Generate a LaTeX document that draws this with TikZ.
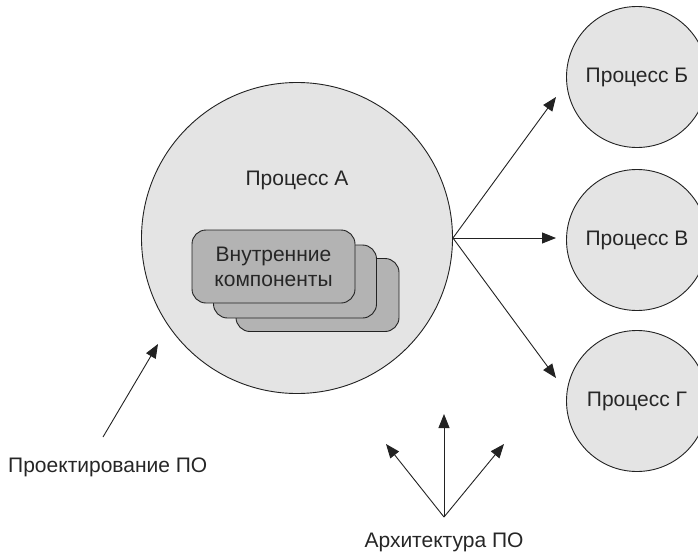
\documentclass[tikz,border=0pt]{standalone}
\usepackage{fontspec}
\setmainfont{Liberation Sans}
\usetikzlibrary{arrows.meta}
\definecolor{procfill}{HTML}{E4E4E4}
\definecolor{compfill}{HTML}{B3B3B3}
\definecolor{edge}{HTML}{222222}
\tikzset{
  proc/.style={circle, draw=edge, line width=0.9pt, fill=procfill, inner sep=0pt},
  comp/.style={rectangle, rounded corners=14pt, draw=edge, line width=0.9pt, fill=compfill,
    minimum width=163pt, minimum height=73pt, inner sep=0pt},
  link/.style={draw=edge, line width=0.9pt, -{Triangle[length=14pt,width=11pt]}},
  lbl/.style={font=\fontsize{21}{24}\selectfont, text=black!85, align=center}
}
\begin{document}
\begin{tikzpicture}[x=1pt,y=-1pt]
  \useasboundingbox (0,0) rectangle (698,554);
  % main process with its stacked internal components
  \node[proc, minimum size=311pt] (A) at (297,238) {};
  \node[lbl] (Alabel) at (297,180) {Процесс А};
  \node[comp] (c3) at (317.5,295) {};
  \node[comp] (c2) at (295,281.5) {};
  \node[comp, lbl] (c1) at (273.5,266.5) {Внутренние\\[1pt]компоненты};
  % neighbouring processes
  \node[proc, minimum size=141pt, lbl] (B) at (637,77) {Процесс Б};
  \node[proc, minimum size=141pt, lbl] (V) at (637,240) {Процесс В};
  \node[proc, minimum size=141pt, lbl] (G) at (637,401) {Процесс Г};
  % links from A to the other processes
  \coordinate (tB) at (556,97);
  \coordinate (tV) at (556,238);
  \coordinate (tG) at (556,378);
  \draw[link] (A.east) -- (tB);
  \draw[link] (A.east) -- (tV);
  \draw[link] (A.east) -- (tG);
  % software design
  \node[lbl, anchor=west, inner sep=0pt] (design) at (8,467) {Проектирование ПО};
  \coordinate (d0) at (103,437);
  \coordinate (d1) at (158,344);
  \draw[link] (d0) -- (d1);
  % software architecture
  \node[lbl] (arch) at (444,542) {Архитектура ПО};
  \coordinate (a0) at (444,517);
  \coordinate (aU) at (444,414);
  \coordinate (aL) at (386,444);
  \coordinate (aR) at (504,444);
  \draw[link] (a0) -- (aU);
  \draw[link] (a0) -- (aL);
  \draw[link] (a0) -- (aR);
\end{tikzpicture}
\end{document}
